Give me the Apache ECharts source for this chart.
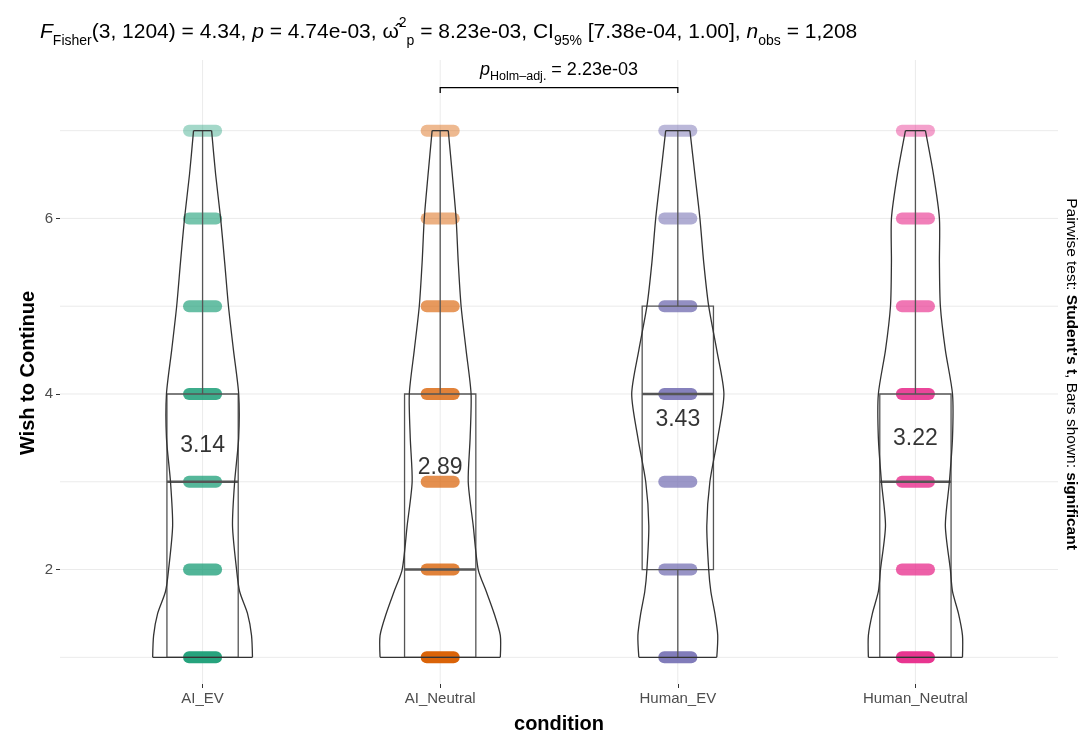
<!DOCTYPE html>
<html><head><meta charset="utf-8">
<script src="https://cdn.jsdelivr.net/npm/echarts@6/dist/echarts.min.js"></script>
<style>html,body{margin:0;padding:0;background:#fff}#c{width:1084px;height:736px}</style>
</head><body><div id="c"></div>
<script>
// ---------- data ----------
const categories = ['AI_EV', 'AI_Neutral', 'Human_EV', 'Human_Neutral'];
const groupColors = ['#1B9E77', '#D95F02', '#7570B3', '#E7298A'];
const levels = [1, 2, 3, 4, 5, 6, 7];
// estimated counts of responses per level (1..7)
const countsAI_EV = [90, 42, 40, 56, 32, 27, 15];
const countsAI_Neutral = [110, 45, 35, 45, 30, 20, 17];
const countsHuman_EV = [72, 40, 38, 62, 45, 25, 20];
const countsHuman_Neutral = [85, 40, 45, 58, 30, 27, 17];
const means = [3.14, 2.89, 3.43, 3.22];
const boxQ1 = [1, 1, 2, 1];
const boxMedian = [3, 2, 4, 3];
const boxQ3 = [4, 4, 5, 4];
const whiskerLow = [1, 1, 1, 1];
const whiskerHigh = [7, 7, 7, 7];
// violin half-widths (x-axis units) sampled at violinY
const violinY = [1, 1.25, 1.5, 1.75, 2, 2.5, 3, 3.5, 4, 4.5, 5, 5.5, 6, 6.5, 7];
const violinAI_EV = [0.210, 0.206, 0.189, 0.156, 0.143, 0.126, 0.135, 0.152, 0.152, 0.130, 0.109, 0.093, 0.076, 0.055, 0.038];
const violinAI_Neutral = [0.253, 0.253, 0.227, 0.194, 0.160, 0.139, 0.118, 0.126, 0.130, 0.109, 0.088, 0.076, 0.067, 0.051, 0.034];
const violinHuman_EV = [0.164, 0.168, 0.156, 0.139, 0.130, 0.122, 0.135, 0.168, 0.194, 0.164, 0.130, 0.109, 0.093, 0.072, 0.051];
const violinHuman_Neutral = [0.198, 0.198, 0.181, 0.156, 0.147, 0.126, 0.143, 0.156, 0.156, 0.126, 0.105, 0.101, 0.101, 0.076, 0.042];
const yTickValues = [2, 4, 6];
const yGridValues = [1, 2, 3, 4, 5, 6, 7];
const bracketPair = [2, 3];
const bracketY = 7.49;
const bracketP = '2.23e-03';

// ---------- derived ----------
const countsAll = [countsAI_EV, countsAI_Neutral, countsHuman_EV, countsHuman_Neutral];
const violinAll = [violinAI_EV, violinAI_Neutral, violinHuman_EV, violinHuman_Neutral];
const bandData = [];
countsAll.forEach((cs, gi) => levels.forEach((lv, li) => bandData.push([gi + 1, lv, cs[li]])));

const FONT = '"Liberation Sans", Arial, Helvetica, sans-serif';
const JITTER = 0.057, PR = 6, BOXW = 0.15;

const chart = echarts.init(document.getElementById('c'));
const option = {
  backgroundColor: '#fff',
  animation: false,
  textStyle: { fontFamily: FONT },
  grid: { left: 60, right: 26, top: 60, bottom: 52 },
  xAxis: {
    type: 'value', min: 0.4, max: 4.6,
    axisLine: { show: false },
    splitLine: { show: false },
    axisTick: { show: true, customValues: [1, 2, 3, 4], length: 4, lineStyle: { color: '#333' } },
    axisLabel: { customValues: [1, 2, 3, 4], formatter: v => categories[Math.round(v) - 1] || '', color: '#4d4d4d', fontSize: 15, margin: 7, fontFamily: FONT }
  },
  yAxis: {
    type: 'value', min: 0.696, max: 7.805,
    axisLine: { show: false },
    splitLine: { show: false },
    axisTick: { show: true, customValues: yTickValues, length: 4, lineStyle: { color: '#333' } },
    axisLabel: { customValues: yTickValues, color: '#4d4d4d', fontSize: 15, margin: 7, fontFamily: FONT }
  },
  graphic: [
    { type: 'text', left: 40, top: 16, z: 10,
      style: {
        text: '{i|F}{s|Fisher}{n|(3, 1204) = 4.34, }{i|p}{n| = 4.74e-03, }{n|ω̂}{sup|2}{s|p}{n| = 8.23e-03, CI}{s|95%}{n| [7.38e-04, 1.00], }{i|n}{s|obs}{n| = 1,208}',
        rich: {
          n: { fontSize: 21, fontFamily: FONT, color: '#000', lineHeight: 32, verticalAlign: 'middle' },
          i: { fontSize: 21, fontFamily: FONT, fontStyle: 'italic', color: '#000', lineHeight: 32, verticalAlign: 'middle' },
          s: { fontSize: 14, fontFamily: FONT, color: '#000', lineHeight: 18, verticalAlign: 'bottom' },
          sup: { fontSize: 14, fontFamily: FONT, color: '#000', lineHeight: 14, verticalAlign: 'top' }
        }
      } },
    { type: 'text', x: 28, y: 373, rotation: Math.PI / 2, z: 10,
      style: { text: 'Wish to Continue', align: 'center', verticalAlign: 'middle', font: 'bold 20px ' + FONT, fill: '#000' } },
    { type: 'text', x: 559, y: 724, z: 10,
      style: { text: 'condition', align: 'center', verticalAlign: 'middle', font: 'bold 20px ' + FONT, fill: '#000' } },
    { type: 'text', x: 1071, y: 374, rotation: -Math.PI / 2, z: 10,
      style: {
        text: '{n|Pairwise test: }{b|Student\'s t}{n|, Bars shown: }{b|significant}',
        align: 'center', verticalAlign: 'middle',
        rich: {
          n: { fontSize: 15.5, fontFamily: FONT, color: '#000' },
          b: { fontSize: 15.5, fontFamily: FONT, fontWeight: 'bold', color: '#000' }
        }
      } }
  ],
  series: [
    { // horizontal grid lines
      type: 'custom', z: 0, silent: true,
      data: yGridValues.map(v => [1, v]),
      encode: { x: 0, y: 1 },
      renderItem: (params, api) => {
        const cs = params.coordSys;
        const p = api.coord([1, api.value(1)]);
        return { type: 'line', shape: { x1: cs.x, y1: p[1], x2: cs.x + cs.width, y2: p[1] }, style: { stroke: '#ebebeb', lineWidth: 1 } };
      }
    },
    { // vertical grid lines
      type: 'custom', z: 0, silent: true,
      data: categories.map((c, i) => [i + 1, 4]),
      encode: { x: 0, y: 1 },
      renderItem: (params, api) => {
        const cs = params.coordSys;
        const p = api.coord([api.value(0), 4]);
        return { type: 'line', shape: { x1: p[0], y1: cs.y, x2: p[0], y2: cs.y + cs.height }, style: { stroke: '#ebebeb', lineWidth: 1 } };
      }
    },
    { // jittered points bands
      type: 'custom', z: 2, silent: true,
      data: bandData,
      encode: { x: 0, y: 1 },
      renderItem: (params, api) => {
        const g = api.value(0), lv = api.value(1), cnt = api.value(2);
        const l = api.coord([g - JITTER, lv]);
        const r = api.coord([g + JITTER, lv]);
        const op = 1 - Math.pow(0.6, cnt / 15);
        return { type: 'rect', shape: { x: l[0] - PR, y: l[1] - PR, width: r[0] - l[0] + 2 * PR, height: 2 * PR, r: PR },
          style: { fill: groupColors[g - 1], opacity: op } };
      }
    },
    { // boxplots
      type: 'custom', z: 3, silent: true,
      data: categories.map((c, i) => [i + 1, boxMedian[i]]),
      encode: { x: 0, y: 1 },
      renderItem: (params, api) => {
        const g = api.value(0), k = g - 1;
        const tl = api.coord([g - BOXW, boxQ3[k]]);
        const br = api.coord([g + BOXW, boxQ1[k]]);
        const mL = api.coord([g - BOXW, boxMedian[k]]);
        const mR = api.coord([g + BOXW, boxMedian[k]]);
        const st = { stroke: '#555', lineWidth: 1.3, fill: null };
        const ch = [
          { type: 'rect', shape: { x: tl[0], y: tl[1], width: br[0] - tl[0], height: br[1] - tl[1] }, style: st },
          { type: 'line', shape: { x1: mL[0], y1: mL[1], x2: mR[0], y2: mR[1] }, style: { stroke: '#555', lineWidth: 2.6 } }
        ];
        if (whiskerHigh[k] > boxQ3[k]) {
          const a = api.coord([g, boxQ3[k]]), b = api.coord([g, whiskerHigh[k]]);
          ch.push({ type: 'line', shape: { x1: a[0], y1: a[1], x2: b[0], y2: b[1] }, style: st });
        }
        if (whiskerLow[k] < boxQ1[k]) {
          const a = api.coord([g, boxQ1[k]]), b = api.coord([g, whiskerLow[k]]);
          ch.push({ type: 'line', shape: { x1: a[0], y1: a[1], x2: b[0], y2: b[1] }, style: st });
        }
        return { type: 'group', children: ch };
      }
    },
    { // violins
      type: 'custom', z: 4, silent: true,
      data: categories.map((c, i) => [i + 1, 4]),
      encode: { x: 0, y: 1 },
      renderItem: (params, api) => {
        const g = api.value(0), w = violinAll[g - 1];
        const left = violinY.map((y, i) => api.coord([g - w[i], y]));
        const right = violinY.map((y, i) => api.coord([g + w[i], y]));
        const n = left.length;
        const st = { stroke: '#333', lineWidth: 1.3, fill: null };
        return { type: 'group', children: [
          { type: 'polyline', shape: { points: left, smooth: 0.25 }, style: st },
          { type: 'polyline', shape: { points: right, smooth: 0.25 }, style: st },
          { type: 'line', shape: { x1: left[0][0], y1: left[0][1], x2: right[0][0], y2: right[0][1] }, style: st },
          { type: 'line', shape: { x1: left[n - 1][0], y1: left[n - 1][1], x2: right[n - 1][0], y2: right[n - 1][1] }, style: st }
        ] };
      }
    },
    { // mean labels
      type: 'scatter', z: 6, silent: true,
      symbolSize: 1, itemStyle: { color: 'rgba(0,0,0,0)' },
      data: means.map((m, i) => [i + 1, m]),
      label: { show: true, position: 'top', distance: 12, formatter: p => p.value[1].toFixed(2), fontSize: 23, color: '#000', fontFamily: FONT }
    },
    { // significance bracket
      type: 'custom', z: 7, silent: true,
      data: [[bracketPair[0], bracketPair[1], bracketY]],
      encode: { x: [0, 1], y: 2 },
      renderItem: (params, api) => {
        const a = api.value(0), b = api.value(1), y = api.value(2);
        const p1 = api.coord([a, y - 0.06]), p2 = api.coord([a, y]), p3 = api.coord([b, y]), p4 = api.coord([b, y - 0.06]);
        const mid = api.coord([(a + b) / 2, y]);
        return { type: 'group', children: [
          { type: 'polyline', shape: { points: [p1, p2, p3, p4] }, style: { stroke: '#000', lineWidth: 1.3, fill: null } },
          { type: 'text', style: {
              x: mid[0], y: mid[1] - 5, align: 'center', verticalAlign: 'bottom',
              text: '{i|p}{s|Holm\u2013adj.}{n| = ' + bracketP + '}',
              rich: {
                n: { fontSize: 18, fontFamily: FONT, color: '#000', lineHeight: 26, verticalAlign: 'middle' },
                i: { fontSize: 18, fontFamily: FONT, fontStyle: 'italic', color: '#000', lineHeight: 26, verticalAlign: 'middle' },
                s: { fontSize: 12.5, fontFamily: FONT, color: '#000', lineHeight: 15, verticalAlign: 'bottom' }
              } } }
        ] };
      }
    }
  ]
};
chart.setOption(option);
</script></body></html>
